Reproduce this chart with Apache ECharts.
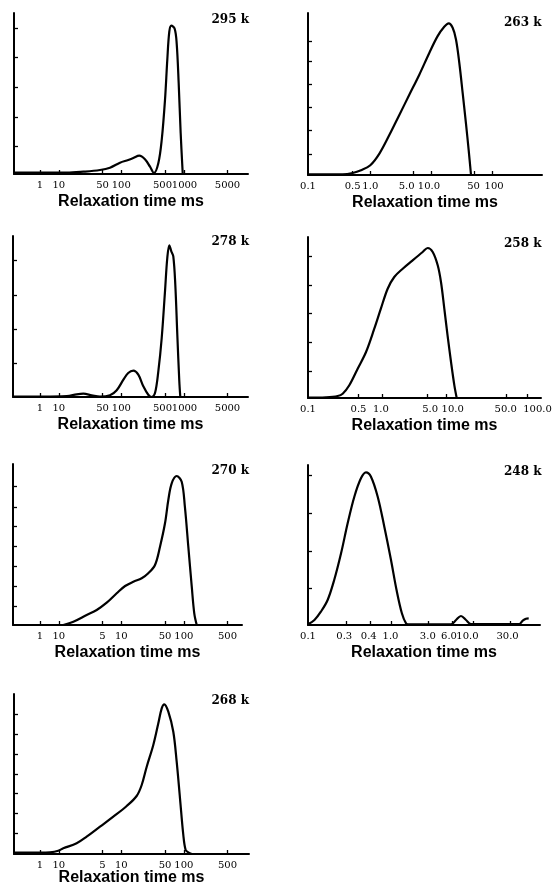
<!DOCTYPE html>
<html>
<head>
<meta charset="utf-8">
<script src="https://cdn.jsdelivr.net/npm/echarts@6/dist/echarts.min.js"></script>
<style>
    html, body { margin: 0; padding: 0; background: #fff; }
    #Root { width: 553px; height: 885px; }
</style>
</head>
<body>
<div id="Root"></div>
<script>
//#region data (relaxation time in ms, amplitude in arbitrary units)
// 295 k
const tau295 = [1.92, 5.0, 13.4, 24.7, 45.6, 65.9, 95.3, 129, 156, 194, 239, 288, 333, 391, 443, 500, 544, 586, 631, 714, 769, 828, 891, 960]
const amp295 = [1.3, 1.3, 1.3, 2.3, 4, 6.3, 11.3, 14, 16, 18.3, 14.7, 7.3, 1, 10.7, 34, 74, 114, 142.3, 148.3, 145.3, 130.7, 90.7, 40.7, 0.7]
const range295 = [1.92, 10640]
const yMax295 = 161
const yTicks295 = [28, 57, 87, 117, 146]
const tickAt295 = [5, 10, 50, 100, 500, 1000, 5000]
const labelAt295 = [5, 10, 50, 100, 456, 1026, 5000]
const labels295 = ["1", "10", "50", "100", "500", "1000", "5000"]

// 278 k
const tau278 = [1.85, 13.4, 19.3, 24.7, 33.6, 45.6, 65.9, 84.4, 108, 129, 156, 187, 225, 270, 306, 346, 391, 443, 500, 544, 586, 631, 679, 731, 787, 847, 879]
const amp278 = [0.3, 1, 2.7, 3.3, 1.7, 0.3, 1.7, 6.7, 17.3, 24, 26.3, 22.3, 10.7, 2.3, 0, 4, 25.7, 59, 105.7, 139, 151.7, 145.7, 140.7, 112.3, 62.3, 15.7, 0]
const range278 = [1.85, 10640]
const yMax278 = 161
const yTicks278 = [34, 68, 102, 137]
const tickAt278 = [5, 10, 50, 100, 500, 1000, 5000]
const labelAt278 = [5, 10, 50, 100, 456, 1026, 5000]
const labels278 = ["1", "10", "50", "100", "500", "1000", "5000"]

// 270 k
const tau270 = [1.18, 1.71, 2.79, 4.04, 5.84, 8.44, 11.5, 15.6, 21.2, 27.0, 34.6, 41.6, 50.0, 56.5, 64.0, 76.9, 92.5, 104, 118, 134, 147, 161]
const amp270 = [0, 3.3, 10, 15, 22.3, 31.7, 39, 43.3, 46.7, 51.7, 60, 78.3, 101.7, 125, 141.7, 149, 143.3, 118.3, 78.3, 38.3, 11.7, 0]
const range270 = [0.185, 853]
const yMax270 = 161
const yTicks270 = [19, 39, 59, 79, 99, 118, 139]
const tickAt270 = [0.5, 1, 5, 10, 50, 100, 500]
const labels270 = ["1", "10", "5", "10", "50", "100", "500"]

// 268 k
const tau268 = [0.192, 0.5, 0.723, 0.98, 1.18, 1.93, 2.79, 4.56, 7.45, 12.2, 17.6, 21.2, 25.5, 32.5, 39.1, 44.3, 48.7, 56.5, 67.9, 76.9, 86.9, 98.2, 107, 118, 134]
const amp268 = [1.3, 1.3, 1.7, 3.3, 5.7, 10.7, 17.3, 27.3, 37.3, 48, 58, 69, 87.3, 109, 130.7, 145.7, 149.7, 142.3, 122.3, 92.3, 55.7, 19, 4, 1.7, 0]
const range268 = [0.192, 1104]
const yMax268 = 160
const yTicks268 = [21, 41, 61, 80, 100, 120, 140]
const tickAt268 = [0.5, 1, 5, 10, 50, 100, 500]
const labels268 = ["1", "10", "5", "10", "50", "100", "500"]

// 263 k
const tau263 = [0.0952, 0.353, 0.514, 0.705, 1.0, 1.41, 2.05, 2.99, 4.36, 6.36, 9.27, 12.7, 16.3, 19.3, 22.4, 25.4, 28.8, 32.7, 37.0, 41.0, 44.8]
const amp263 = [0.7, 0.7, 2, 4.7, 9.7, 21.3, 39.7, 59.7, 79.7, 99.7, 121.3, 138, 147.3, 150.7, 146.3, 134.7, 111.3, 81.3, 51.3, 24.7, 0]
const range263 = [0.0952, 653]
const yMax263 = 161
const yTicks263 = [21, 44, 67, 90, 113, 133]
const tickAt263 = [0.5, 1, 5, 10, 50, 100]
const labelAt263 = [0.0952, 0.514, 1.0, 3.95, 9.17, 49.2, 107]
const labels263 = ["0.1", "0.5", "1.0", "5.0", "10.0", "50", "100"]

// 258 k
const tau258 = [0.0824, 0.153, 0.230, 0.273, 0.343, 0.458, 0.611, 0.813, 1.02, 1.29, 1.62, 2.17, 3.06, 4.32, 5.14, 6.11, 7.26, 8.13, 9.12, 10.2, 11.5, 12.9, 14.0]
const amp258 = [0.3, 0.7, 2, 4.3, 12.7, 29.3, 46, 69.3, 89.3, 109.3, 121, 129.3, 137.7, 146, 150, 146, 132.7, 116, 89.3, 62.7, 36, 12.7, 0]
const range258 = [0.0824, 257]
const yMax258 = 161
const yTicks258 = [27, 56, 85, 113, 142]
const tickAt258 = [0.474, 1.06, 5.14, 9.66, 76.7, 162]
const labelAt258 = [0.0824, 0.471, 1.02, 5.58, 12.2, 76.0, 228]
const labels258 = ["0.1", "0.5", "1.0", "5.0", "10.0", "50.0", "100.0"]

// 248 k
const tau248 = [0.0959, 0.115, 0.138, 0.167, 0.201, 0.244, 0.294, 0.355, 0.428, 0.493, 0.568, 0.687, 0.828, 1.0, 1.17, 1.36, 1.53, 1.68, 5.45, 6.28, 7.22, 8.32, 9.59, 37.5, 41.3, 45.3, 48.9]
const amp248 = [0.7, 5, 13.3, 25, 45, 71.7, 101.7, 128.3, 146.7, 152.7, 148.3, 128.3, 98.3, 65, 35, 11.7, 1.7, 0.7, 0.7, 5, 9, 5, 1, 1, 4.3, 6.3, 6.7]
const range248 = [0.0959, 67.3]
const yMax248 = 160
const yTicks248 = [37, 74, 112, 150]
const tickAt248 = [0.281, 0.563, 1.0, 2.90, 5.65, 10.2, 29.4]
const labelAt248 = [0.0959, 0.267, 0.534, 0.986, 2.83, 5.15, 8.68, 26.9]
const labels248 = ["0.1", "0.3", "0.4", "1.0", "3.0", "6.0", "10.0", "30.0"]
//#endregion

//#region panel layout
let Panels = [
    { name: "295 k", tau: tau295, amp: amp295, range: range295, yMax: yMax295, yTicks: yTicks295, tickAt: tickAt295, labelAt: labelAt295, labels: labels295,
      box: [14, 13, 234, 161], titleRight: 304, titleTop: 13.7, nameGap: 20 },
    { name: "278 k", tau: tau278, amp: amp278, range: range278, yMax: yMax278, yTicks: yTicks278, tickAt: tickAt278, labelAt: labelAt278, labels: labels278,
      box: [13, 236, 235, 161], titleRight: 304, titleTop: 236.3, nameGap: 20 },
    { name: "270 k", tau: tau270, amp: amp270, range: range270, yMax: yMax270, yTicks: yTicks270, tickAt: tickAt270, labelAt: tickAt270, labels: labels270,
      box: [13, 464, 229, 161], titleRight: 304, titleTop: 464.7, nameGap: 20 },
    { name: "268 k", tau: tau268, amp: amp268, range: range268, yMax: yMax268, yTicks: yTicks268, tickAt: tickAt268, labelAt: tickAt268, labels: labels268,
      box: [14, 694, 235, 160], titleRight: 304, titleTop: 694.7, nameGap: 16 },
    { name: "263 k", tau: tau263, amp: amp263, range: range263, yMax: yMax263, yTicks: yTicks263, tickAt: tickAt263, labelAt: labelAt263, labels: labels263,
      box: [308, 13, 234, 162], titleRight: 11.5, titleTop: 17.3, nameGap: 20 },
    { name: "258 k", tau: tau258, amp: amp258, range: range258, yMax: yMax258, yTicks: yTicks258, tickAt: tickAt258, labelAt: labelAt258, labels: labels258,
      box: [308, 237, 233, 161], titleRight: 11.5, titleTop: 238, nameGap: 20 },
    { name: "248 k", tau: tau248, amp: amp248, range: range248, yMax: yMax248, yTicks: yTicks248, tickAt: tickAt248, labelAt: labelAt248, labels: labels248,
      box: [308, 465, 232, 160], titleRight: 11.5, titleTop: 466.3, nameGap: 20 }
]
//#endregion

let grids = [], xAxes = [], yAxes = [], series = [], titles = []
let blackLine = { color: "#000", width: 2 }

Panels.forEach((p, i) => {
    grids.push({ left: p.box[0], top: p.box[1], width: p.box[2], height: p.box[3], containLabel: false, outerBoundsMode: "none" })

    let labelLogs = p.labelAt.map(v => Math.log10(v))
    xAxes.push({
        type: "value",
        gridIndex: i,
        min: Math.log10(p.range[0]),
        max: Math.log10(p.range[1]),
        axisLine: { show: true, onZero: false, lineStyle: blackLine },
        axisTick: { show: true, inside: true, length: 4, customValues: p.tickAt.map(v => Math.log10(v)), lineStyle: { color: "#000", width: 1.3 } },
        axisLabel: {
            show: true,
            customValues: labelLogs,
            margin: 6,
            color: "#000",
            fontFamily: "DejaVu Serif",
            fontSize: 10,
            formatter: function (v) {
                let k = 0, d = Infinity
                labelLogs.forEach((l, j) => { if (Math.abs(l - v) < d) { d = Math.abs(l - v); k = j } })
                return p.labels[k]
            }
        },
        splitLine: { show: false },
        name: "Relaxation time ms",
        nameLocation: "middle",
        nameGap: p.nameGap,
        nameMoveOverlap: false,
        nameTextStyle: { fontFamily: "Liberation Sans", fontWeight: "bold", fontSize: 16, color: "#000" }
    })

    yAxes.push({
        type: "value",
        gridIndex: i,
        min: 0,
        max: p.yMax,
        axisLine: { show: true, onZero: false, lineStyle: blackLine },
        axisTick: { show: true, inside: true, length: 4, customValues: p.yTicks, lineStyle: { color: "#000", width: 1.3 } },
        axisLabel: { show: false },
        splitLine: { show: false }
    })

    series.push({
        type: "line",
        xAxisIndex: i,
        yAxisIndex: i,
        showSymbol: false,
        smooth: 0.35,
        silent: true,
        lineStyle: { color: "#000", width: 2.2 },
        data: p.tau.map((t, k) => [Math.log10(t), p.amp[k]])
    })

    titles.push({
        text: p.name,
        right: p.titleRight,
        top: p.titleTop,
        padding: 0,
        textStyle: { fontFamily: "DejaVu Serif", fontWeight: "bold", fontSize: 12, color: "#000" }
    })
})

let chart = echarts.init(document.getElementById("Root"), null, { renderer: "canvas" })
chart.setOption({
    animation: false,
    backgroundColor: "#fff",
    title: titles,
    grid: grids,
    xAxis: xAxes,
    yAxis: yAxes,
    series: series
})
</script>
</body>
</html>
